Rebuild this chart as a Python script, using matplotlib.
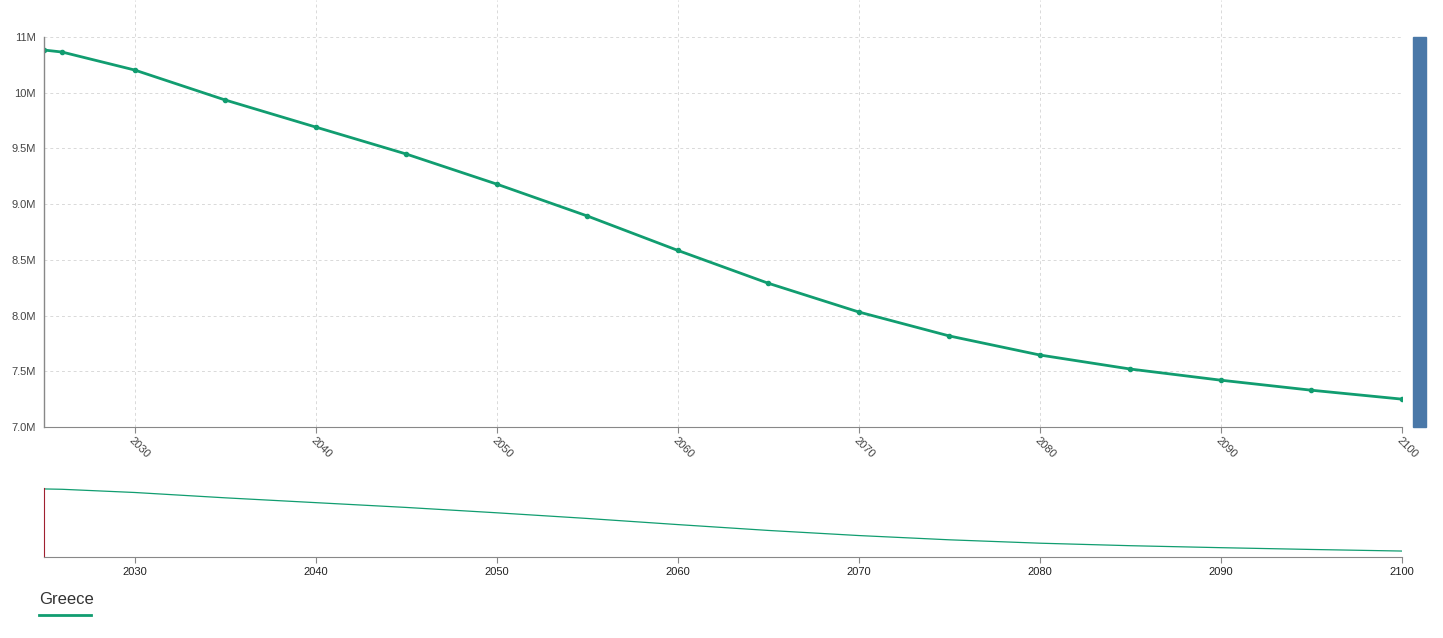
import matplotlib.pyplot as plt
from matplotlib.patches import Rectangle
from matplotlib.ticker import FixedLocator

plt.rcParams['font.family'] = ['Liberation Sans', 'DejaVu Sans']

years = [2025, 2026, 2030, 2035, 2040, 2045, 2050, 2055, 2060,
         2065, 2070, 2075, 2080, 2085, 2090, 2095, 2100]
population = [10.383, 10.365, 10.204, 9.935, 9.692, 9.45, 9.18, 8.894, 8.585,
              8.29, 8.032, 7.817, 7.646, 7.52, 7.42, 7.33, 7.25]  # millions
y_ticks = [7.0, 7.5, 8.0, 8.5, 9.0, 9.5, 10.0, 10.5]
y_labels = ['7.0M', '7.5M', '8.0M', '8.5M', '9.0M', '9.5M', '10M', '11M']
x_ticks = [2030, 2040, 2050, 2060, 2070, 2080, 2090, 2100]
country = 'Greece'

green = '#119d70'
W, H = 1443, 638
fig = plt.figure(figsize=(W / 100, H / 100), dpi=100)

def fig_rect(x0, y0, x1, y1):
    return [x0 / W, 1 - y1 / H, (x1 - x0) / W, (y1 - y0) / H]

# main chart (axes extend to figure top so vertical grid reaches the top)
ax = fig.add_axes(fig_rect(44, 0, 1402, 427))
ax.plot(years, population, color=green, lw=2.0, marker='o', ms=3, zorder=3)
ax.set_xlim(2025, 2100)
ax.set_ylim(7.0, 10.5 + 37 / (390 / 3.5))
ax.yaxis.set_major_locator(FixedLocator(y_ticks))
ax.set_yticklabels(y_labels)
ax.set_xticks(x_ticks)
ax.set_xticklabels([str(t) for t in x_ticks], rotation=-45, ha='left',
                   va='top', rotation_mode='anchor')
ax.tick_params(axis='y', length=0, labelsize=8, colors='#444444', pad=6)
ax.tick_params(axis='x', length=4, labelsize=8, colors='#444444',
               color='#888888', pad=2)
ax.grid(True, color='#d9d9d9', ls=(0, (3, 3)), lw=0.7)
for s in ['top', 'right', 'left']:
    ax.spines[s].set_visible(False)
ax.spines['bottom'].set_color('#888888')
ax.plot([2025, 2025], [7.0, 10.5], color='#888888', lw=1, clip_on=False, zorder=4)

# side scroll bar
fig.patches.append(Rectangle((1413 / W, 1 - 427 / H), 13 / W, 390 / H,
                             transform=fig.transFigure, color='#4a78a8'))

# overview chart
ax2 = fig.add_axes(fig_rect(44, 488, 1402, 557))
ax2.plot(years, population, color=green, lw=0.9)
ax2.set_xlim(2025, 2100)
ax2.set_ylim(6.95, 10.43)
ax2.set_yticks([])
ax2.set_xticks(x_ticks)
ax2.tick_params(axis='x', length=4, labelsize=8, colors='#222222',
                color='#888888', pad=3)
for s in ['top', 'right']:
    ax2.spines[s].set_visible(False)
ax2.spines['bottom'].set_color('#888888')
ax2.spines['left'].set_color('#a02030')

# legend
fig.text(39 / W, 1 - 600 / H, country, fontsize=12, color='#333333',
         va='center', ha='left')
fig.add_artist(plt.Line2D([39 / W, 91 / W], [1 - 615 / H, 1 - 615 / H],
                          color=green, lw=2, transform=fig.transFigure))

fig.savefig('out.png', dpi=100)
